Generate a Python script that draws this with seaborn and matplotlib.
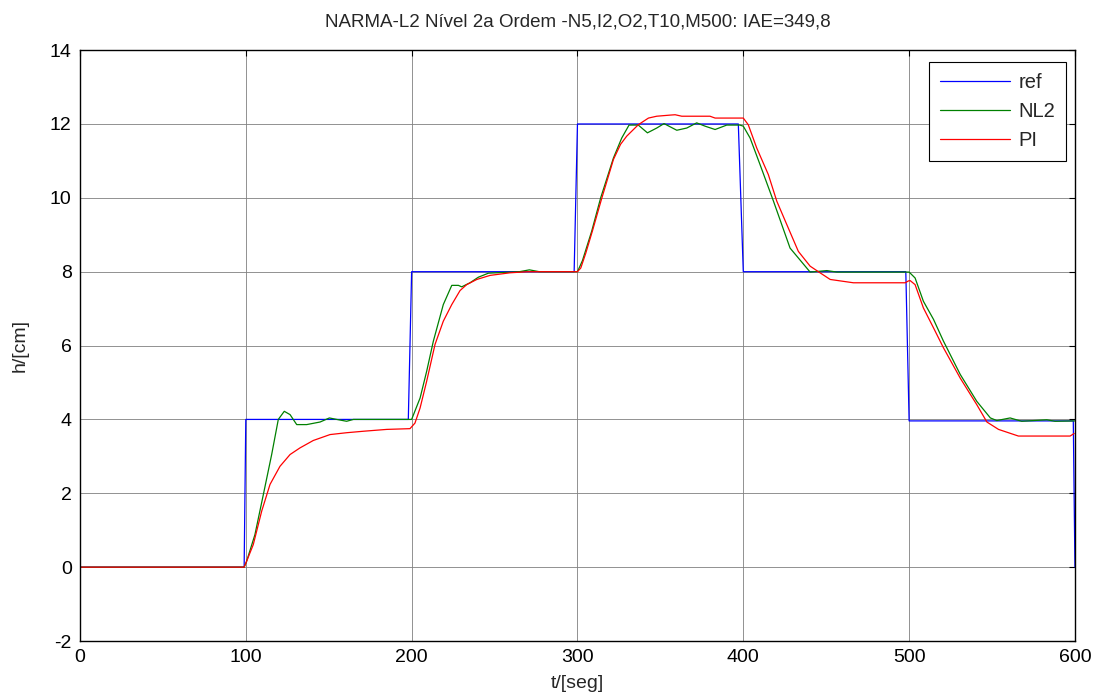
import numpy as np
import pandas as pd
import matplotlib
matplotlib.use("Agg")
import matplotlib.pyplot as plt
import seaborn as sns

# referencia (degraus)
ref_t = [0, 99, 100, 198, 200, 298, 300, 397, 400, 498, 500, 599, 600]
ref_h = [0, 0, 4, 4, 8, 8, 12, 12, 8, 8, 3.96, 3.96, 0]

# controlador NARMA-L2
nl2_t = [0, 99, 100.5, 105.5, 110.6, 115.6, 119.6, 123.2, 126.7, 130.7, 136.7,
         144.8, 150.4, 154.8, 160.8, 164.9, 200, 205.1, 209.1, 213.1, 219.1,
         224.2, 228.2, 230.2, 235.2, 240.2, 246.3, 265, 271, 277, 300, 303,
         308.6, 314, 321.7, 326.7, 331.1, 336.7, 342.2, 347.8, 352.2, 359.9,
         365.9, 371.9, 377, 383, 390, 398, 400, 404.1, 410.1, 418.2, 428.2,
         440.3, 450.4, 456.4, 500, 503.6, 508.6, 514.7, 520.7, 530.8, 540.8,
         549, 552.9, 560.9, 567.9, 583, 588, 600]
nl2_h = [0, 0, 0.16, 0.88, 1.97, 3.05, 4.0, 4.22, 4.13, 3.86, 3.86,
         3.93, 4.04, 4.0, 3.95, 4.0, 4.0, 4.58, 5.31, 6.12, 7.11,
         7.63, 7.63, 7.59, 7.70, 7.85, 7.96, 8.0, 8.05, 8.0, 8.0, 8.3,
         9.1, 10.0, 11.08, 11.62, 11.97, 11.97, 11.76, 11.89, 12.01, 11.83,
         11.89, 12.03, 11.94, 11.85, 11.97, 11.97, 11.94, 11.62, 10.9, 9.91, 8.64,
         7.99, 8.03, 7.99, 7.99, 7.83, 7.2, 6.71, 6.12, 5.22, 4.49,
         4.04, 3.97, 4.04, 3.95, 3.99, 3.95, 3.96]

# controlador PI
pi_t = [0, 99, 100.5, 104.5, 109.6, 114.6, 120.6, 126.7, 132.7, 140.7, 150.8,
        160.8, 170.9, 185, 199, 202, 205.1, 209.1, 214.1, 219.1, 224.2, 229.2,
        233.2, 239.3, 247.3, 259.3, 270, 300, 302, 305, 309, 314.6, 321.7,
        326, 329.7, 336.7, 342.8, 347.8, 355.8, 358.9, 362.9, 379.9, 383, 400,
        403, 408.1, 415.1, 420.2, 426.2, 433.2, 440.3, 446.3, 452.4, 466.4,
        497.6, 499.6, 500.6, 503.6, 508.6, 514.7, 520.7, 530.8, 540.8, 546.9,
        553.9, 565.9, 597.1, 599.5]
pi_h = [0, 0, 0.16, 0.61, 1.52, 2.24, 2.73, 3.05, 3.23, 3.43, 3.59,
        3.64, 3.68, 3.73, 3.75, 3.9, 4.31, 5.04, 6.03, 6.66, 7.11, 7.49,
        7.65, 7.79, 7.9, 7.97, 8.0, 8.0, 8.1, 8.5, 9.1, 9.98, 11.04,
        11.45, 11.67, 11.98, 12.16, 12.21, 12.24, 12.25, 12.21, 12.21, 12.16, 12.16,
        11.98, 11.35, 10.63, 9.91, 9.28, 8.55, 8.15, 7.97, 7.79, 7.70,
        7.70, 7.75, 7.76, 7.65, 7.02, 6.48, 5.94, 5.12, 4.4, 3.93,
        3.73, 3.55, 3.55, 3.62]

series = [
    ("ref", ref_t, ref_h, "#0000ff"),
    ("NL2", nl2_t, nl2_h, "#008000"),
    ("PI", pi_t, pi_h, "#ff0000"),
]

sns.set_style("white")
plt.rcParams["font.family"] = ["Liberation Sans", "DejaVu Sans"]
plt.rcParams["axes.unicode_minus"] = False

fig = plt.figure(figsize=(10.97, 6.96), dpi=100)
ax = fig.add_axes([0.0729, 0.079, 0.907, 0.849])

for name, t, h, cor in series:
    df = pd.DataFrame({"t": t, "h": h})
    sns.lineplot(data=df, x="t", y="h", ax=ax, color=cor, linewidth=0.9,
                 label=name, estimator=None, sort=False)

ax.set_xlim(0, 600)
ax.set_ylim(-2, 14)
ax.set_xticks(np.arange(0, 601, 100))
ax.set_yticks(np.arange(-2, 15, 2))
ax.grid(True, color="0.5", linewidth=0.6)
ax.tick_params(direction="in", length=4, width=0.8, colors="black",
               labelsize=14, top=True, right=True, pad=6)
for s in ax.spines.values():
    s.set_color("black")
    s.set_linewidth(1.0)

ax.set_title("NARMA-L2 Nível 2a Ordem -N5,I2,O2,T10,M500: IAE=349,8",
             fontsize=13.5, pad=17)
ax.set_xlabel("t/[seg]", fontsize=14, labelpad=6)
ax.set_ylabel("h/[cm]", fontsize=14, labelpad=15)

leg = ax.legend(loc="upper right", bbox_to_anchor=(0.991, 0.980),
                borderaxespad=0, fontsize=14.5, fancybox=False,
                framealpha=1, edgecolor="black", handlelength=3.5,
                handletextpad=0.4, labelspacing=0.5, borderpad=0.55)
leg.get_frame().set_linewidth(0.8)

fig.savefig("out.png", dpi=100)
